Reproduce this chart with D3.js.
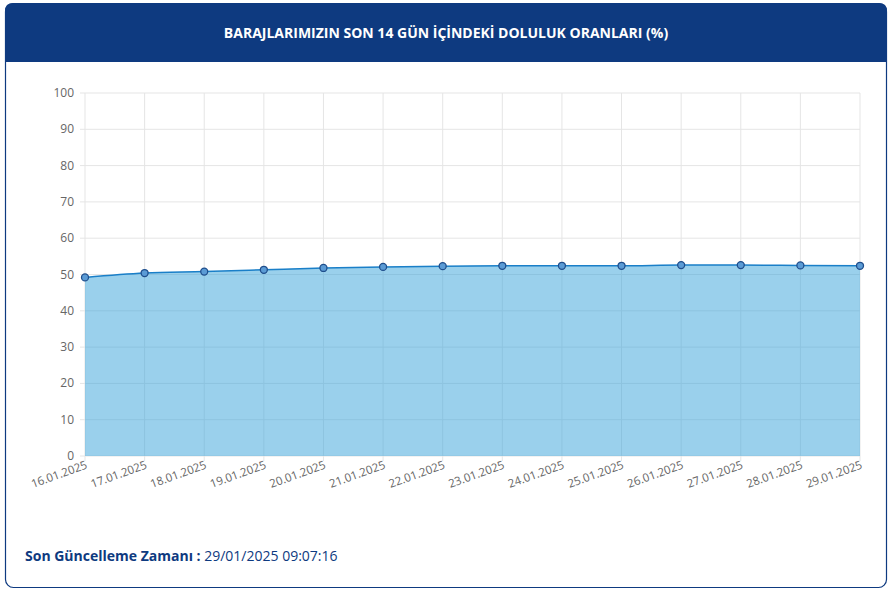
<!DOCTYPE html><html><head><meta charset="utf-8"><script src="https://cdn.jsdelivr.net/npm/d3@7"></script>
<style>body{margin:0;background:#fff;font-family:"Open Sans",sans-serif}</style></head><body><svg id="c" width="891" height="590"></svg><script>
const dates=["16.01.2025","17.01.2025","18.01.2025","19.01.2025","20.01.2025","21.01.2025","22.01.2025","23.01.2025","24.01.2025","25.01.2025","26.01.2025","27.01.2025","28.01.2025","29.01.2025"];
const values=[49.2,50.4,50.8,51.3,51.8,52.1,52.3,52.4,52.4,52.4,52.6,52.6,52.5,52.4];
const yTicks=[0,10,20,30,40,50,60,70,80,90,100];
const svg=d3.select("#c");
svg.append("rect").attr("x",5.5).attr("y",3.5).attr("width",881).attr("height",584).attr("rx",8).attr("fill","#fff").attr("stroke","#0e3a80").attr("stroke-width",1.2);
svg.append("path").attr("d","M5,62 V11 Q5,3 13,3 H879 Q887,3 887,11 V62 Z").attr("fill","#0e3a80");
svg.append("text").attr("x",446).attr("y",38).attr("text-anchor","middle").attr("fill","#fff").attr("font-weight","bold").attr("font-size",14).text("BARAJLARIMIZIN SON 14 GÜN İÇİNDEKİ DOLULUK ORANLARI (%)");
const x=d3.scalePoint().domain(dates).range([85,860]);
const y=d3.scaleLinear().domain([0,100]).range([456,93]);
const g=svg.append("g");
g.selectAll(".h").data(yTicks).enter().append("line").attr("x1",80).attr("x2",860).attr("y1",d=>y(d)).attr("y2",d=>y(d)).attr("stroke","#e5e5e5");
g.selectAll(".v").data(dates).enter().append("line").attr("x1",d=>x(d)).attr("x2",d=>x(d)).attr("y1",93).attr("y2",461).attr("stroke","#e5e5e5");
g.selectAll(".yl").data(yTicks).enter().append("text").attr("x",74).attr("y",d=>y(d)+4).attr("text-anchor","end").attr("font-size",12).attr("fill","#666").text(d=>d);
g.selectAll(".xl").data(dates).enter().append("text").attr("transform",d=>`translate(${x(d)+3},${468}) rotate(-20)`).attr("text-anchor","end").attr("font-size",11.5).attr("fill","#666").text(d=>d);
const pts=dates.map((d,i)=>[x(d),y(values[i])]);
g.append("path").attr("d",d3.area().x(p=>p[0]).y0(y(0)).y1(p=>p[1]).curve(d3.curveMonotoneX)(pts)).attr("fill","rgba(54,162,218,0.5)");
g.append("path").attr("d",d3.line().curve(d3.curveMonotoneX)(pts)).attr("fill","none").attr("stroke","#1a7fc8").attr("stroke-width",1.5);
g.selectAll("circle").data(pts).enter().append("circle").attr("cx",p=>p[0]).attr("cy",p=>p[1]).attr("r",3.5).attr("fill","#5b9bd5").attr("stroke","#1f4e8c").attr("stroke-width",1.3);
const t=svg.append("text").attr("x",25).attr("y",561).attr("font-size",14).attr("fill","#0e3a80");
t.append("tspan").attr("font-weight","bold").text("Son Güncelleme Zamanı : ");
t.append("tspan").text("29/01/2025 09:07:16");
</script></body></html>
